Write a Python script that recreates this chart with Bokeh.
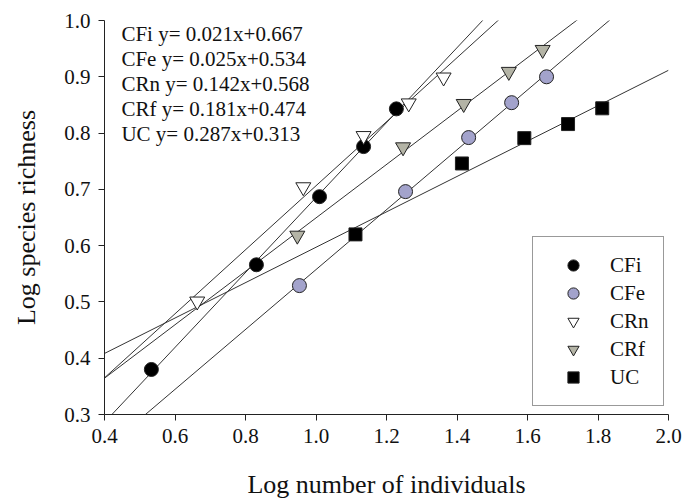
import numpy as np
from bokeh.plotting import figure
from bokeh.models import Legend, LegendItem, FixedTicker, NumeralTickFormatter
from bokeh.core.properties import value
from bokeh.embed import file_html
from bokeh.resources import INLINE

# ---- data ----
groups = ["CFi", "CFe", "CRn", "CRf", "UC"]
cfi_x = [0.533, 0.831, 1.010, 1.135, 1.228]
cfi_y = [0.380, 0.566, 0.687, 0.776, 0.843]
cfe_x = [0.953, 1.254, 1.433, 1.555, 1.654]
cfe_y = [0.529, 0.696, 0.792, 0.854, 0.900]
crn_x = [0.663, 0.964, 1.135, 1.263, 1.362]
crn_y = [0.501, 0.704, 0.795, 0.853, 0.899]
crf_x = [0.947, 1.247, 1.419, 1.547, 1.643]
crf_y = [0.618, 0.775, 0.852, 0.909, 0.948]
uc_x = [1.112, 1.414, 1.591, 1.715, 1.812]
uc_y = [0.620, 0.746, 0.791, 0.816, 0.844]
equations = ["y= 0.021x+0.667", "y= 0.025x+0.534", "y= 0.142x+0.568",
             "y= 0.181x+0.474", "y= 0.287x+0.313"]
x_ticks = [0.4, 0.6, 0.8, 1.0, 1.2, 1.4, 1.6, 1.8, 2.0]
y_ticks = [0.3, 0.4, 0.5, 0.6, 0.7, 0.8, 0.9, 1.0]

FONT = "Liberation Serif"

p = figure(width=684, height=504, output_backend="svg", toolbar_location=None,
           x_range=(0.4, 2.0), y_range=(0.3, 1.0),
           min_border_left=104, min_border_right=16, min_border_top=20, min_border_bottom=90)
p.background_fill_color = "white"
p.border_fill_color = "white"
p.outline_line_color = None
p.xgrid.visible = False
p.ygrid.visible = False

for ax in (p.xaxis[0], p.yaxis[0]):
    ax.major_label_text_font = FONT
    ax.major_label_text_font_size = "21px"
    ax.major_label_text_color = "#111111"
    ax.axis_label_text_font = FONT
    ax.axis_label_text_font_size = "26px"
    ax.axis_label_text_font_style = "normal"
    ax.axis_label_text_color = "#111111"
    ax.axis_line_color = "#222222"
    ax.major_tick_line_color = "#222222"
    ax.major_tick_out = 6
    ax.major_tick_in = 0
    ax.minor_tick_line_color = None
    ax.formatter = NumeralTickFormatter(format="0.0")
    ax.major_label_standoff = 8

p.xaxis[0].ticker = FixedTicker(ticks=x_ticks)
p.yaxis[0].ticker = FixedTicker(ticks=y_ticks)
p.xaxis[0].axis_label = "Log number of individuals"
p.yaxis[0].axis_label = "Log species richness"
p.xaxis[0].axis_label_standoff = 24
p.yaxis[0].axis_label_standoff = 20

series = [
    (cfi_x, cfi_y, "circle", "black", 14),
    (cfe_x, cfe_y, "circle", "#a3a3cc", 14),
    (crn_x, crn_y, "inverted_triangle", "white", 15),
    (crf_x, crf_y, "inverted_triangle", "#b4b4a6", 15),
    (uc_x, uc_y, "square", "black", 13),
]

# regression lines (fitted from the points) across the whole x range
line_x = np.array([0.4, 2.0])
for xs, ys, *_ in series:
    m, b = np.polyfit(xs, ys, 1)
    p.line(line_x, m * line_x + b, line_color="#333333", line_width=1)

items = []
for name, (xs, ys, marker, fill, size) in zip(groups, series):
    r = p.scatter(xs, ys, marker=marker, size=size, fill_color=fill,
                  line_color="#222222", line_width=1)
    items.append(LegendItem(label=name, renderers=[r]))

legend = Legend(items=items, location=(428, 8), padding=14, spacing=0,
                glyph_width=52, glyph_height=28, label_standoff=11,
                label_text_font=FONT, label_text_font_size="21px",
                label_text_color="#111111",
                border_line_color="#333333", border_line_width=1,
                background_fill_color="white", background_fill_alpha=1.0,
                margin=0)
p.add_layout(legend)

# equation text block (upper left)
eq_x0 = 0.448
eq_y0 = 0.9767
eq_dy = 0.0444
eq_texts = [f"{g} {e}" for g, e in zip(groups, equations)]
p.text(x=[eq_x0] * len(eq_texts), y=[eq_y0 - i * eq_dy for i in range(len(eq_texts))],
       text=eq_texts, text_font=value(FONT), text_font_size="21px",
       text_baseline="middle", text_align="left", text_color="#111111")

open("out.html", "w").write(file_html(p, INLINE))
